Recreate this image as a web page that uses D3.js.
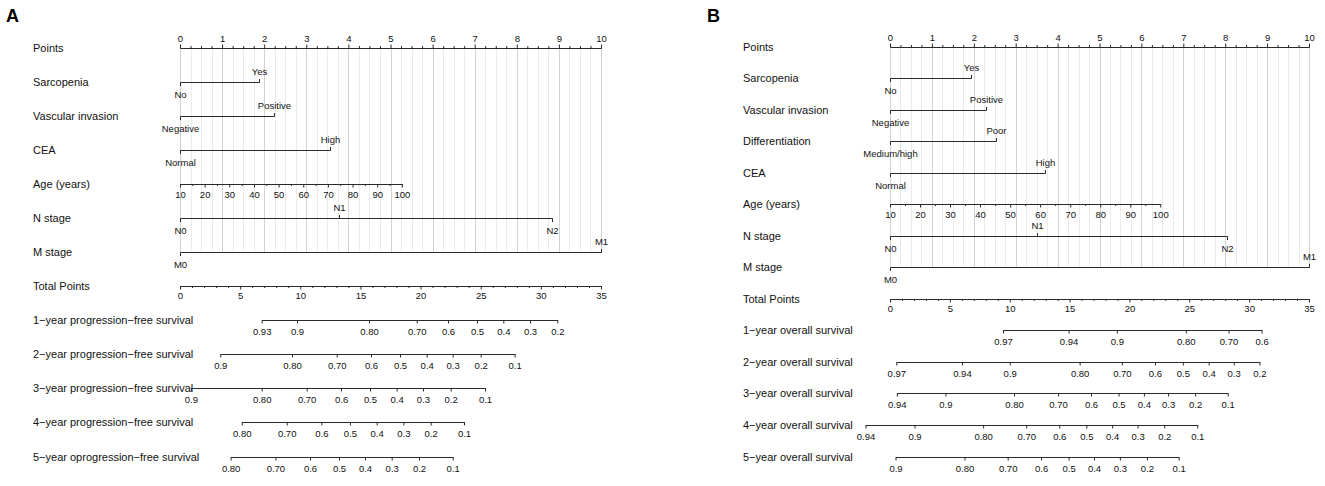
<!DOCTYPE html>
<html><head><meta charset="utf-8">
<script src="https://cdn.jsdelivr.net/npm/d3@7"></script>
<style>
body{margin:0;background:#fff}
svg{display:block}
text{font-family:"Liberation Sans",Arial,Helvetica,sans-serif;fill:#111}
</style>
</head><body>
<svg id="chart" width="1325" height="486"></svg>
<script>
// ---------- shared tick labels ----------
const pointTicks = [0,1,2,3,4,5,6,7,8,9,10];
const totalTicks = [0,5,10,15,20,25,30,35];
const ageTicks = [10,20,30,40,50,60,70,80,90,100];

// ---------- Panel A (progression-free survival) ----------
const aSarcopenia = ["No","Yes"];            const aSarcopeniaPts = [0, 1.88];
const aVascular = ["Negative","Positive"];   const aVascularPts = [0, 2.23];
const aCea = ["Normal","High"];              const aCeaPts = [0, 3.57];
const aAgePts = [0, 5.27];                   // points at age 10 and age 100
const aNStage = ["N0","N1","N2"];            const aNStagePts = [0, 3.78, 8.83];
const aMStage = ["M0","M1"];                 const aMStagePts = [0, 10];
const aSurv1Labels = ["0.93","0.9","0.80","0.70","0.6","0.5","0.4","0.3","0.2"];
const aSurv1Pts    = [6.79, 9.73, 15.71, 19.68, 22.28, 24.69, 26.88, 29.10, 31.37];
const aSurv2Labels = ["0.9","0.80","0.70","0.6","0.5","0.4","0.3","0.2","0.1"];
const aSurv2Pts    = [3.35, 9.31, 13.03, 15.88, 18.29, 20.51, 22.67, 25.00, 27.82];
const aSurv3Labels = ["0.9","0.80","0.70","0.6","0.5","0.4","0.3","0.2","0.1"];
const aSurv3Pts    = [0.91, 6.79, 10.53, 13.39, 15.80, 18.01, 20.20, 22.50, 25.36];
const aSurv4Labels = ["0.80","0.70","0.6","0.5","0.4","0.3","0.2","0.1"];
const aSurv4Pts    = [5.13, 8.87, 11.75, 14.13, 16.35, 18.57, 20.84, 23.61];
const aSurv5Labels = ["0.80","0.70","0.6","0.5","0.4","0.3","0.2","0.1"];
const aSurv5Pts    = [4.21, 7.93, 10.81, 13.22, 15.38, 17.60, 19.87, 22.67];

// ---------- Panel B (overall survival) ----------
const bSarcopenia = ["No","Yes"];                const bSarcopeniaPts = [0, 1.94];
const bVascular = ["Negative","Positive"];       const bVascularPts = [0, 2.28];
const bDiff = ["Medium/high","Poor"];            const bDiffPts = [0, 2.52];
const bCea = ["Normal","High"];                  const bCeaPts = [0, 3.69];
const bAgePts = [0, 6.45];
const bNStage = ["N0","N1","N2"];                const bNStagePts = [0, 3.52, 8.05];
const bMStage = ["M0","M1"];                     const bMStagePts = [0, 10];
const bSurv1Labels = ["0.97","0.94","0.9","0.80","0.70","0.6"];
const bSurv1Pts    = [9.44, 14.92, 18.95, 24.71, 28.28, 31.04];
const bSurv2Labels = ["0.97","0.94","0.9","0.80","0.70","0.6","0.5","0.4","0.3","0.2"];
const bSurv2Pts    = [0.53, 6.01, 10.00, 15.84, 19.37, 22.13, 24.46, 26.62, 28.71, 30.86];
const bSurv3Labels = ["0.94","0.9","0.80","0.70","0.6","0.5","0.4","0.3","0.2","0.1"];
const bSurv3Pts    = [0.57, 4.63, 10.36, 14.04, 16.79, 19.09, 21.21, 23.23, 25.49, 28.21];
const bSurv4Labels = ["0.94","0.9","0.80","0.70","0.6","0.5","0.4","0.3","0.2","0.1"];
const bSurv4Pts    = [-2.05, 2.05, 7.78, 11.38, 14.14, 16.40, 18.56, 20.68, 22.91, 25.67];
const bSurv5Labels = ["0.9","0.80","0.70","0.6","0.5","0.4","0.3","0.2","0.1"];
const bSurv5Pts    = [0.46, 6.22, 9.83, 12.62, 14.92, 17.04, 19.20, 21.46, 24.11];

// ---------- row tables ----------
const rowsA = [
  {label:"Points", kind:"points"},
  {label:"Sarcopenia", kind:"cat", levels:aSarcopenia, pts:aSarcopeniaPts},
  {label:"Vascular invasion", kind:"cat", levels:aVascular, pts:aVascularPts},
  {label:"CEA", kind:"cat", levels:aCea, pts:aCeaPts},
  {label:"Age (years)", kind:"cont", values:ageTicks, pts:aAgePts},
  {label:"N stage", kind:"cat", levels:aNStage, pts:aNStagePts},
  {label:"M stage", kind:"cat", levels:aMStage, pts:aMStagePts},
  {label:"Total Points", kind:"total"},
  {label:"1\u2212year progression\u2212free survival", kind:"surv", labels:aSurv1Labels, pts:aSurv1Pts},
  {label:"2\u2212year progression\u2212free survival", kind:"surv", labels:aSurv2Labels, pts:aSurv2Pts},
  {label:"3\u2212year progression\u2212free survival", kind:"surv", labels:aSurv3Labels, pts:aSurv3Pts},
  {label:"4\u2212year progression\u2212free survival", kind:"surv", labels:aSurv4Labels, pts:aSurv4Pts},
  {label:"5\u2212year oprogression\u2212free survival", kind:"surv", labels:aSurv5Labels, pts:aSurv5Pts}
];
const rowsB = [
  {label:"Points", kind:"points"},
  {label:"Sarcopenia", kind:"cat", levels:bSarcopenia, pts:bSarcopeniaPts},
  {label:"Vascular invasion", kind:"cat", levels:bVascular, pts:bVascularPts},
  {label:"Differentiation", kind:"cat", levels:bDiff, pts:bDiffPts},
  {label:"CEA", kind:"cat", levels:bCea, pts:bCeaPts},
  {label:"Age (years)", kind:"cont", values:ageTicks, pts:bAgePts},
  {label:"N stage", kind:"cat", levels:bNStage, pts:bNStagePts},
  {label:"M stage", kind:"cat", levels:bMStage, pts:bMStagePts},
  {label:"Total Points", kind:"total"},
  {label:"1\u2212year overall survival", kind:"surv", labels:bSurv1Labels, pts:bSurv1Pts},
  {label:"2\u2212year overall survival", kind:"surv", labels:bSurv2Labels, pts:bSurv2Pts},
  {label:"3\u2212year overall survival", kind:"surv", labels:bSurv3Labels, pts:bSurv3Pts},
  {label:"4\u2212year overall survival", kind:"surv", labels:bSurv4Labels, pts:bSurv4Pts},
  {label:"5\u2212year overall survival", kind:"surv", labels:bSurv5Labels, pts:bSurv5Pts}
];

// ---------- drawing ----------
const svg = d3.select("#chart");
const LINE = "#2a2a2a";
const TICK_FS = 9.5, LABEL_FS = 11;

function styleAxis(g){
  g.attr("font-size", null).attr("font-family", null).attr("color", LINE);
  g.selectAll("text").attr("font-size", TICK_FS).style("fill", "#111");
  g.selectAll("path.domain, line").attr("stroke", LINE);
}

function drawPanel(tag, tagX, labelX, x0, x1, y0, y1, rows){
  const g = svg.append("g");
  const x = d3.scaleLinear().domain([0,10]).range([x0,x1]);
  const xt = d3.scaleLinear().domain([0,35]).range([x0,x1]);
  const y = d3.scalePoint().domain(rows.map(r=>r.label)).range([y0,y1]);
  const ry = r => Math.round(y(r.label));

  // panel tag
  g.append("text").attr("x", tagX).attr("y", 22).attr("font-size", 18)
    .attr("font-weight", "bold").style("fill","#000").text(tag);

  // vertical grid from Points axis to M stage row
  const gTop = ry(rows[0]);
  const gBot = ry(rows.find(r=>r.label==="M stage"));
  const gridVals = d3.range(0,41).map(i=>i/4);
  g.append("g").selectAll("line").data(gridVals).join("line")
    .attr("x1", d=>Math.round(x(d))+0.5).attr("x2", d=>Math.round(x(d))+0.5)
    .attr("y1", gTop).attr("y2", gBot)
    .attr("stroke", d=> d%1===0 ? "#d2d2d2" : "#ebebeb").attr("stroke-width",1);

  rows.forEach(r=>{
    const yy = ry(r);
    // row label
    g.append("text").attr("x", labelX).attr("y", yy + 3.5)
      .attr("font-size", LABEL_FS).text(r.label);

    const row = g.append("g").attr("transform", `translate(0,${yy})`);
    if (r.kind === "points"){
      row.append("g").call(d3.axisTop(x).tickValues(gridVals.filter(d=>d%1!==0))
        .tickFormat("").tickSize(2).tickSizeOuter(0)).call(styleAxis);
      row.append("g").call(d3.axisTop(x).tickValues(pointTicks)
        .tickSize(3.5).tickPadding(3).tickSizeOuter(0)).call(styleAxis);
    } else if (r.kind === "total"){
      row.append("g").call(d3.axisBottom(xt).tickValues(d3.range(0,36).filter(d=>d%5!==0))
        .tickFormat("").tickSize(2).tickSizeOuter(0)).call(styleAxis);
      row.append("g").call(d3.axisBottom(xt).tickValues(totalTicks)
        .tickSize(3.5).tickPadding(3).tickSizeOuter(0)).call(styleAxis);
    } else if (r.kind === "cont"){
      const v0 = r.values[0], v1 = r.values[r.values.length-1];
      const xa = d3.scaleLinear().domain([v0, v1]).range([x(r.pts[0]), x(r.pts[1])]);
      row.append("g").call(d3.axisBottom(xa).tickValues(r.values.slice(1).map(v=>v-5))
        .tickFormat("").tickSize(2).tickSizeOuter(0)).call(styleAxis);
      row.append("g").call(d3.axisBottom(xa).tickValues(r.values)
        .tickSize(3.5).tickPadding(4).tickSizeOuter(0)).call(styleAxis);
    } else if (r.kind === "cat"){
      const lo = d3.min(r.pts), hi = d3.max(r.pts);
      row.append("line").attr("x1", Math.round(x(lo))+0.5).attr("x2", Math.round(x(hi))+0.5)
        .attr("y1", 0.5).attr("y2", 0.5).attr("stroke", LINE);
      r.levels.forEach((lv,i)=>{
        const px = Math.round(x(r.pts[i]))+0.5;
        const up = i % 2 === 1;
        row.append("line").attr("x1", px).attr("x2", px)
          .attr("y1", 0.5).attr("y2", up ? -3 : 4).attr("stroke", LINE);
        row.append("text").attr("x", px).attr("y", up ? -7.5 : 15.5)
          .attr("text-anchor","middle").attr("font-size", TICK_FS).text(lv);
      });
    } else if (r.kind === "surv"){
      const lo = d3.min(r.pts), hi = d3.max(r.pts);
      const xs = d3.scaleLinear().domain([lo,hi]).range([xt(lo), xt(hi)]);
      row.append("g").call(d3.axisBottom(xs).tickValues(r.pts)
        .tickFormat((d,i)=>r.labels[i]).tickSize(3.5).tickPadding(4.5).tickSizeOuter(0))
        .call(styleAxis);
    }
  });
}

drawPanel("A", 6, 33, 180, 601, 47.5, 456.5, rowsA);
drawPanel("B", 707, 743, 890, 1309, 46.5, 456.5, rowsB);
</script>
</body></html>
